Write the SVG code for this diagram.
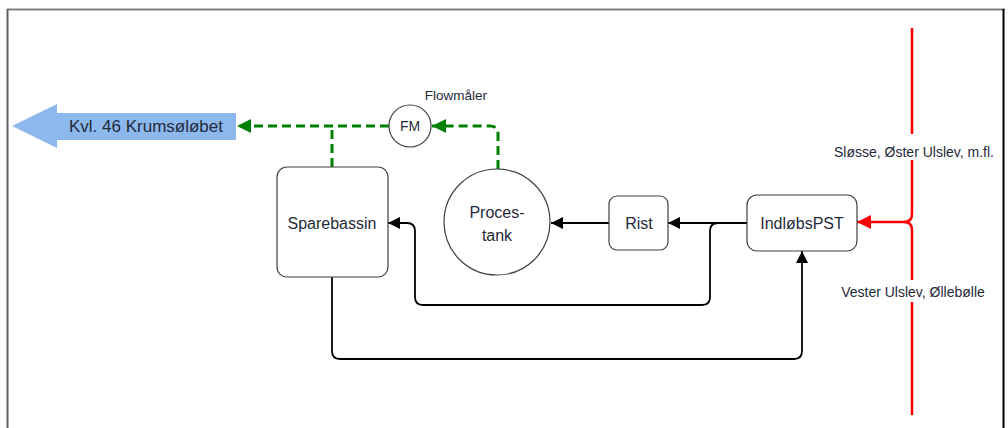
<svg xmlns="http://www.w3.org/2000/svg" width="1008" height="428" viewBox="0 0 1008 428">
<style>
text{font-family:"Liberation Sans",Arial,sans-serif;fill:#1f2a3a;text-anchor:middle}
.box{fill:#fff;stroke:#404040;stroke-width:1.2}
.blk{fill:none;stroke:#000;stroke-width:1.8}
.grn{fill:none;stroke:#008000;stroke-width:3;stroke-dasharray:9 5}
.red{fill:none;stroke:#ff0000;stroke-width:2.5}
</style>
<defs>
<marker id="ab" markerUnits="userSpaceOnUse" markerWidth="12" markerHeight="12" viewBox="0 0 12 12" refX="12" refY="6" orient="auto"><path d="M0,0 L12,6 L0,12 z" fill="#000"/></marker>
<marker id="ag" markerUnits="userSpaceOnUse" markerWidth="14" markerHeight="14" viewBox="0 0 14 14" refX="14" refY="7" orient="auto"><path d="M0,0 L14,7 L0,14 z" fill="#008000"/></marker>
<marker id="ar" markerUnits="userSpaceOnUse" markerWidth="14" markerHeight="14" viewBox="0 0 14 14" refX="14" refY="7" orient="auto"><path d="M0,0 L14,7 L0,14 z" fill="#ff0000"/></marker>
</defs>
<rect width="1008" height="428" fill="#fff"/>
<g id="frame">
<line x1="7" y1="9.5" x2="1005" y2="9.5" stroke="#808080" stroke-width="2"/>
<line x1="7.5" y1="9" x2="7.5" y2="428" stroke="#606060" stroke-width="2"/>
<line x1="1003.5" y1="9" x2="1003.5" y2="428" stroke="#000" stroke-width="2"/>
</g>
<g id="connectors">
<path class="grn" d="M498 169 L498 134 Q498 126 490 126 L432 126" marker-end="url(#ag)"/>
<path class="grn" d="M389 126 L237 126" marker-end="url(#ag)"/>
<path class="grn" d="M332 167 L332 126"/>
<path class="blk" d="M747 223 L668 223" marker-end="url(#ab)"/>
<path class="blk" d="M609 223 L551 223" marker-end="url(#ab)"/>
<path class="blk" d="M718 223 Q710 223 710 231 L710 297 Q710 305 702 305 L423 305 Q415 305 415 297 L415 231 Q415 223 407 223 L388 223" marker-end="url(#ab)"/>
<path class="blk" d="M332 277 L332 351 Q332 359 340 359 L794 359 Q802 359 802 351 L802 251" marker-end="url(#ab)"/>
<path class="red" d="M912 28 L912 214 Q912 222 904 222 L857 222" marker-end="url(#ar)"/>
<path class="red" d="M904 222 Q912 222 912 230 L912 415"/>
</g>
<g id="label-slosse">
<rect x="830" y="134" width="168" height="26" fill="#fff"/>
<text x="914" y="157" font-size="14">Sløsse, Øster Ulslev, m.fl.</text>
</g>
<g id="label-vester">
<rect x="836" y="280" width="156" height="22" fill="#fff"/>
<text x="913" y="297" font-size="14">Vester Ulslev, Øllebølle</text>
</g>
<g id="outlet">
<path d="M12 126 L57 104 L57 113 L236 113 L236 140 L57 140 L57 148 Z" fill="#8db8ee"/>
<text x="146" y="132" font-size="17">Kvl. 46 Krumsøløbet</text>
</g>
<g id="fm">
<circle cx="410" cy="126" r="21" fill="#fff" stroke="#404040" stroke-width="1.2"/>
<text x="410" y="131" font-size="14">FM</text>
<text x="456" y="100" font-size="13.5">Flowmåler</text>
</g>
<g id="sparebassin">
<rect class="box" x="277" y="167" width="111" height="110" rx="10"/>
<text x="332" y="229" font-size="16">Sparebassin</text>
</g>
<g id="procestank">
<circle cx="497" cy="222" r="53" fill="#fff" stroke="#404040" stroke-width="1.2"/>
<text x="497" y="218" font-size="16">Proces-</text>
<text x="497" y="241" font-size="16">tank</text>
</g>
<g id="rist">
<rect class="box" x="609" y="196" width="59" height="54" rx="8"/>
<text x="639" y="229" font-size="16">Rist</text>
</g>
<g id="indlobspst">
<rect class="box" x="747" y="195" width="110" height="56" rx="10"/>
<text x="802" y="229" font-size="16">IndløbsPST</text>
</g>
</svg>
